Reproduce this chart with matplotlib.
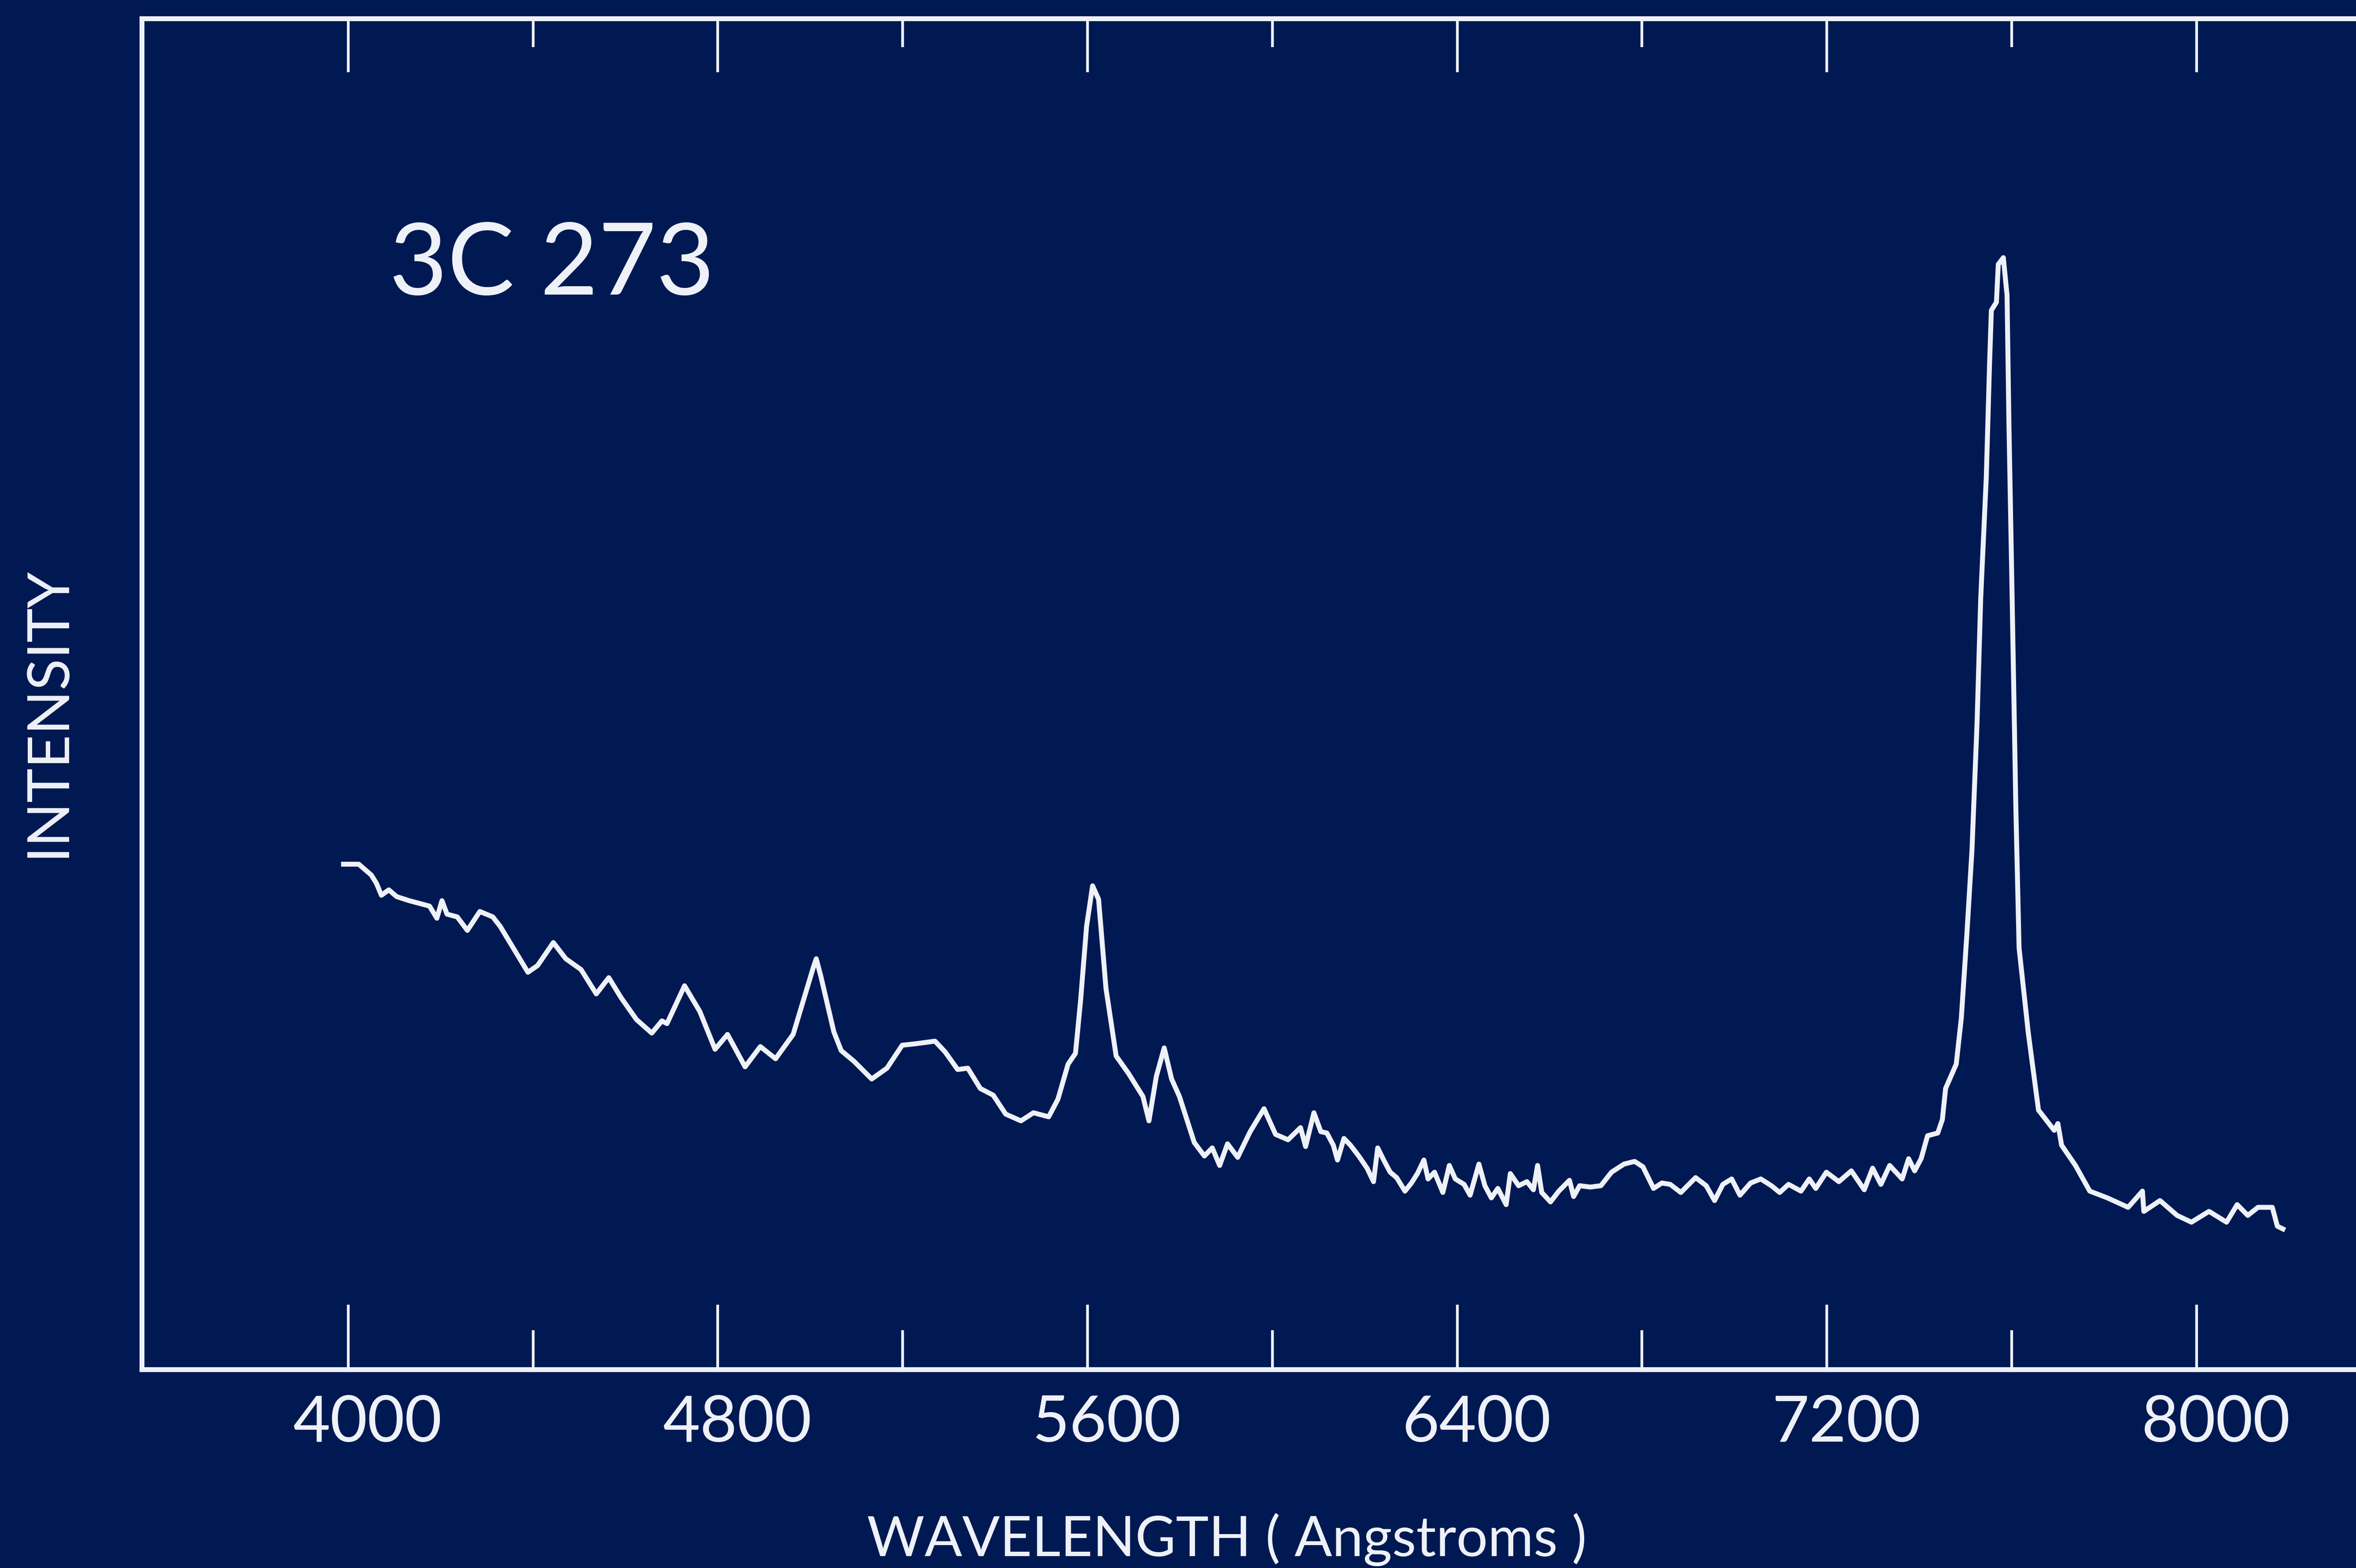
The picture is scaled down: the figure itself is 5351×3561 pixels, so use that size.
import numpy as np
import matplotlib
matplotlib.use("Agg")
import matplotlib.pyplot as plt
from matplotlib.transforms import ScaledTranslation

# spectrum of the quasar 3C 273, wavelength in Angstroms, intensity in relative units
wavelength = [
    3990, 4023, 4050, 4061, 4072, 4088, 4105, 4132, 4176, 4192,
    4203, 4214, 4236, 4258, 4285, 4313, 4329, 4389, 4410, 4444,
    4471, 4504, 4537, 4564, 4591, 4624, 4657, 4679, 4690, 4728,
    4761, 4794, 4821, 4859, 4892, 4925, 4963, 5007, 5013, 5023,
    5051, 5067, 5095, 5133, 5166, 5199, 5226, 5270, 5292, 5319,
    5341, 5368, 5396, 5423, 5456, 5483, 5516, 5536, 5558, 5574,
    5585, 5598, 5611, 5624, 5640, 5662, 5689, 5720, 5733, 5749,
    5766, 5782, 5799, 5831, 5853, 5870, 5886, 5903, 5925, 5952,
    5982, 6007, 6034, 6061, 6072, 6090,
    6105, 6118, 6132, 6141, 6155, 6169, 6187, 6205, 6219, 6228,
    6241, 6255, 6269, 6287, 6301, 6314, 6328, 6337, 6351, 6369,
    6383, 6396, 6415, 6428, 6447, 6460, 6474, 6488, 6506, 6515,
    6533, 6551, 6565, 6574, 6583, 6602, 6620, 6643, 6652, 6665,
    6688, 6711, 6734, 6761, 6784, 6802, 6825, 6843, 6861, 6884,
    6916, 6939, 6957, 6975, 6994, 7012, 7035, 7057, 7080, 7098,
    7117, 7144, 7162, 7176, 7199,
    7226, 7253, 7281, 7299, 7317, 7336, 7363, 7377, 7390, 7404,
    7418, 7440, 7450, 7457, 7480, 7491, 7503, 7514, 7525, 7533,
    7545, 7552, 7556, 7567, 7571, 7582, 7590, 7594, 7601, 7609,
    7616, 7636, 7658, 7692, 7700, 7708, 7738, 7769, 7807, 7852,
    7883, 7886, 7921, 7958, 7989, 8027, 8065, 8088, 8111, 8133,
    8164, 8175, 8187,
]
intensity = [
    37.4, 37.4, 36.6, 36.0, 35.1, 35.5, 35.0, 34.7, 34.3, 33.4,
    34.7, 33.7, 33.5, 32.5, 33.9, 33.5, 32.8, 29.4, 29.9, 31.6,
    30.4, 29.6, 27.8, 29.0, 27.5, 25.9, 24.9, 25.8, 25.6, 28.4,
    26.5, 23.7, 24.8, 22.4, 23.9, 23.0, 24.8, 29.8, 30.4, 29.1,
    25.0, 23.6, 22.8, 21.5, 22.3, 24.0, 24.1, 24.3, 23.5, 22.2,
    22.3, 20.8, 20.3, 18.9, 18.4, 19.0, 18.7, 20.0, 22.6, 23.4,
    27.3, 32.8, 35.8, 34.8, 28.2, 23.2, 21.9, 20.2, 18.4, 21.7,
    23.8, 21.5, 20.2, 16.8, 15.8, 16.4, 15.1, 16.7, 15.7, 17.6,
    19.3, 17.4, 17.0, 17.9, 16.5, 19.0,
    17.6, 17.5, 16.6, 15.5, 17.1, 16.6, 15.8, 14.9, 13.9, 16.4,
    15.5, 14.6, 14.2, 13.2, 13.8, 14.5, 15.5, 14.1, 14.6, 13.1,
    15.1, 14.1, 13.7, 12.9, 15.2, 13.6, 12.7, 13.4, 12.2, 14.5,
    13.6, 13.9, 13.3, 15.1, 13.1, 12.4, 13.2, 14.0, 12.8, 13.6,
    13.5, 13.6, 14.6, 15.2, 15.4, 15.0, 13.4, 13.8, 13.7, 13.1,
    14.2, 13.6, 12.5, 13.7, 14.1, 12.9, 13.8, 14.1, 13.6, 13.1,
    13.7, 13.2, 14.1, 13.4, 14.6,
    13.9, 14.7, 13.3, 14.9, 13.7, 15.1, 14.1, 15.6, 14.7, 15.6,
    17.3, 17.5, 18.5, 20.8, 22.6, 26.0, 32.2, 38.4, 47.8, 57.1,
    66.0, 74.3, 78.4, 79.0, 81.8, 82.3, 79.5, 70.1, 57.1, 41.6,
    31.2, 24.9, 19.2, 17.7, 18.2, 16.6, 15.1, 13.2, 12.7, 12.0,
    13.2, 11.7, 12.5, 11.4, 10.9, 11.7, 10.9, 12.2, 11.4, 12.0,
    12.0, 10.6, 10.4,
]

major_ticks = [4000, 4800, 5600, 6400, 7200, 8000]
minor_ticks = [4400, 5200, 6000, 6800, 7600]

BG = "#001952"
FG = "#eef1f7"
FONT = ["Lato", "DejaVu Sans"]


def main():
    fig = plt.figure(figsize=(53.51, 35.62), dpi=100, facecolor=BG)
    ax = fig.add_axes([0.0601, 0.1266, 1.0095, 0.8613], facecolor=BG)

    ax.plot(wavelength, intensity, color=FG, lw=8, solid_joinstyle="round")

    ax.set_xlim(3553, 8700)
    ax.set_ylim(0, 100)

    for side in ["left", "top", "bottom", "right"]:
        ax.spines[side].set_color(FG)
        ax.spines[side].set_linewidth(8)

    ax.set_yticks([])
    ax.set_xticks(major_ticks)
    ax.set_xticks(minor_ticks, minor=True)
    ax.set_xticklabels([str(t) for t in major_ticks])
    ax.tick_params(axis="x", which="major", direction="in", length=106, width=4.5,
                   color=FG, labelcolor=FG, labelsize=105, pad=40)
    ax.tick_params(axis="x", which="minor", direction="in", length=64, width=4.5,
                   color=FG)
    shift = ScaledTranslation(44 / 100, 0, fig.dpi_scale_trans)
    for lab in ax.get_xticklabels():
        lab.set_family(FONT)
        lab.set_transform(lab.get_transform() + shift)

    # top edge carries shorter ticks than the bottom one
    top = ax.secondary_xaxis("top")
    top.set_xticks(major_ticks)
    top.set_xticks(minor_ticks, minor=True)
    top.set_xticklabels([])
    top.spines["top"].set_visible(False)
    top.tick_params(axis="x", which="major", direction="in", length=88, width=4.5, color=FG)
    top.tick_params(axis="x", which="minor", direction="in", length=47, width=4.5, color=FG)

    ax.text(0.1652, 0.8122, "3C 273", transform=fig.transFigure, color=FG,
            fontsize=164, family=FONT, ha="left", va="baseline")
    fig.text(0.5207, 0.0079, "WAVELENGTH ( Angstroms )", color=FG, fontsize=91,
             family=FONT, ha="center", va="baseline")
    fig.text(0.0204, 0.5463, "INTENSITY", color=FG, fontsize=95, family=FONT,
             rotation=90, ha="center", va="center")

    fig.savefig("out.png", dpi=100, facecolor=BG)


if __name__ == "__main__":
    main()
